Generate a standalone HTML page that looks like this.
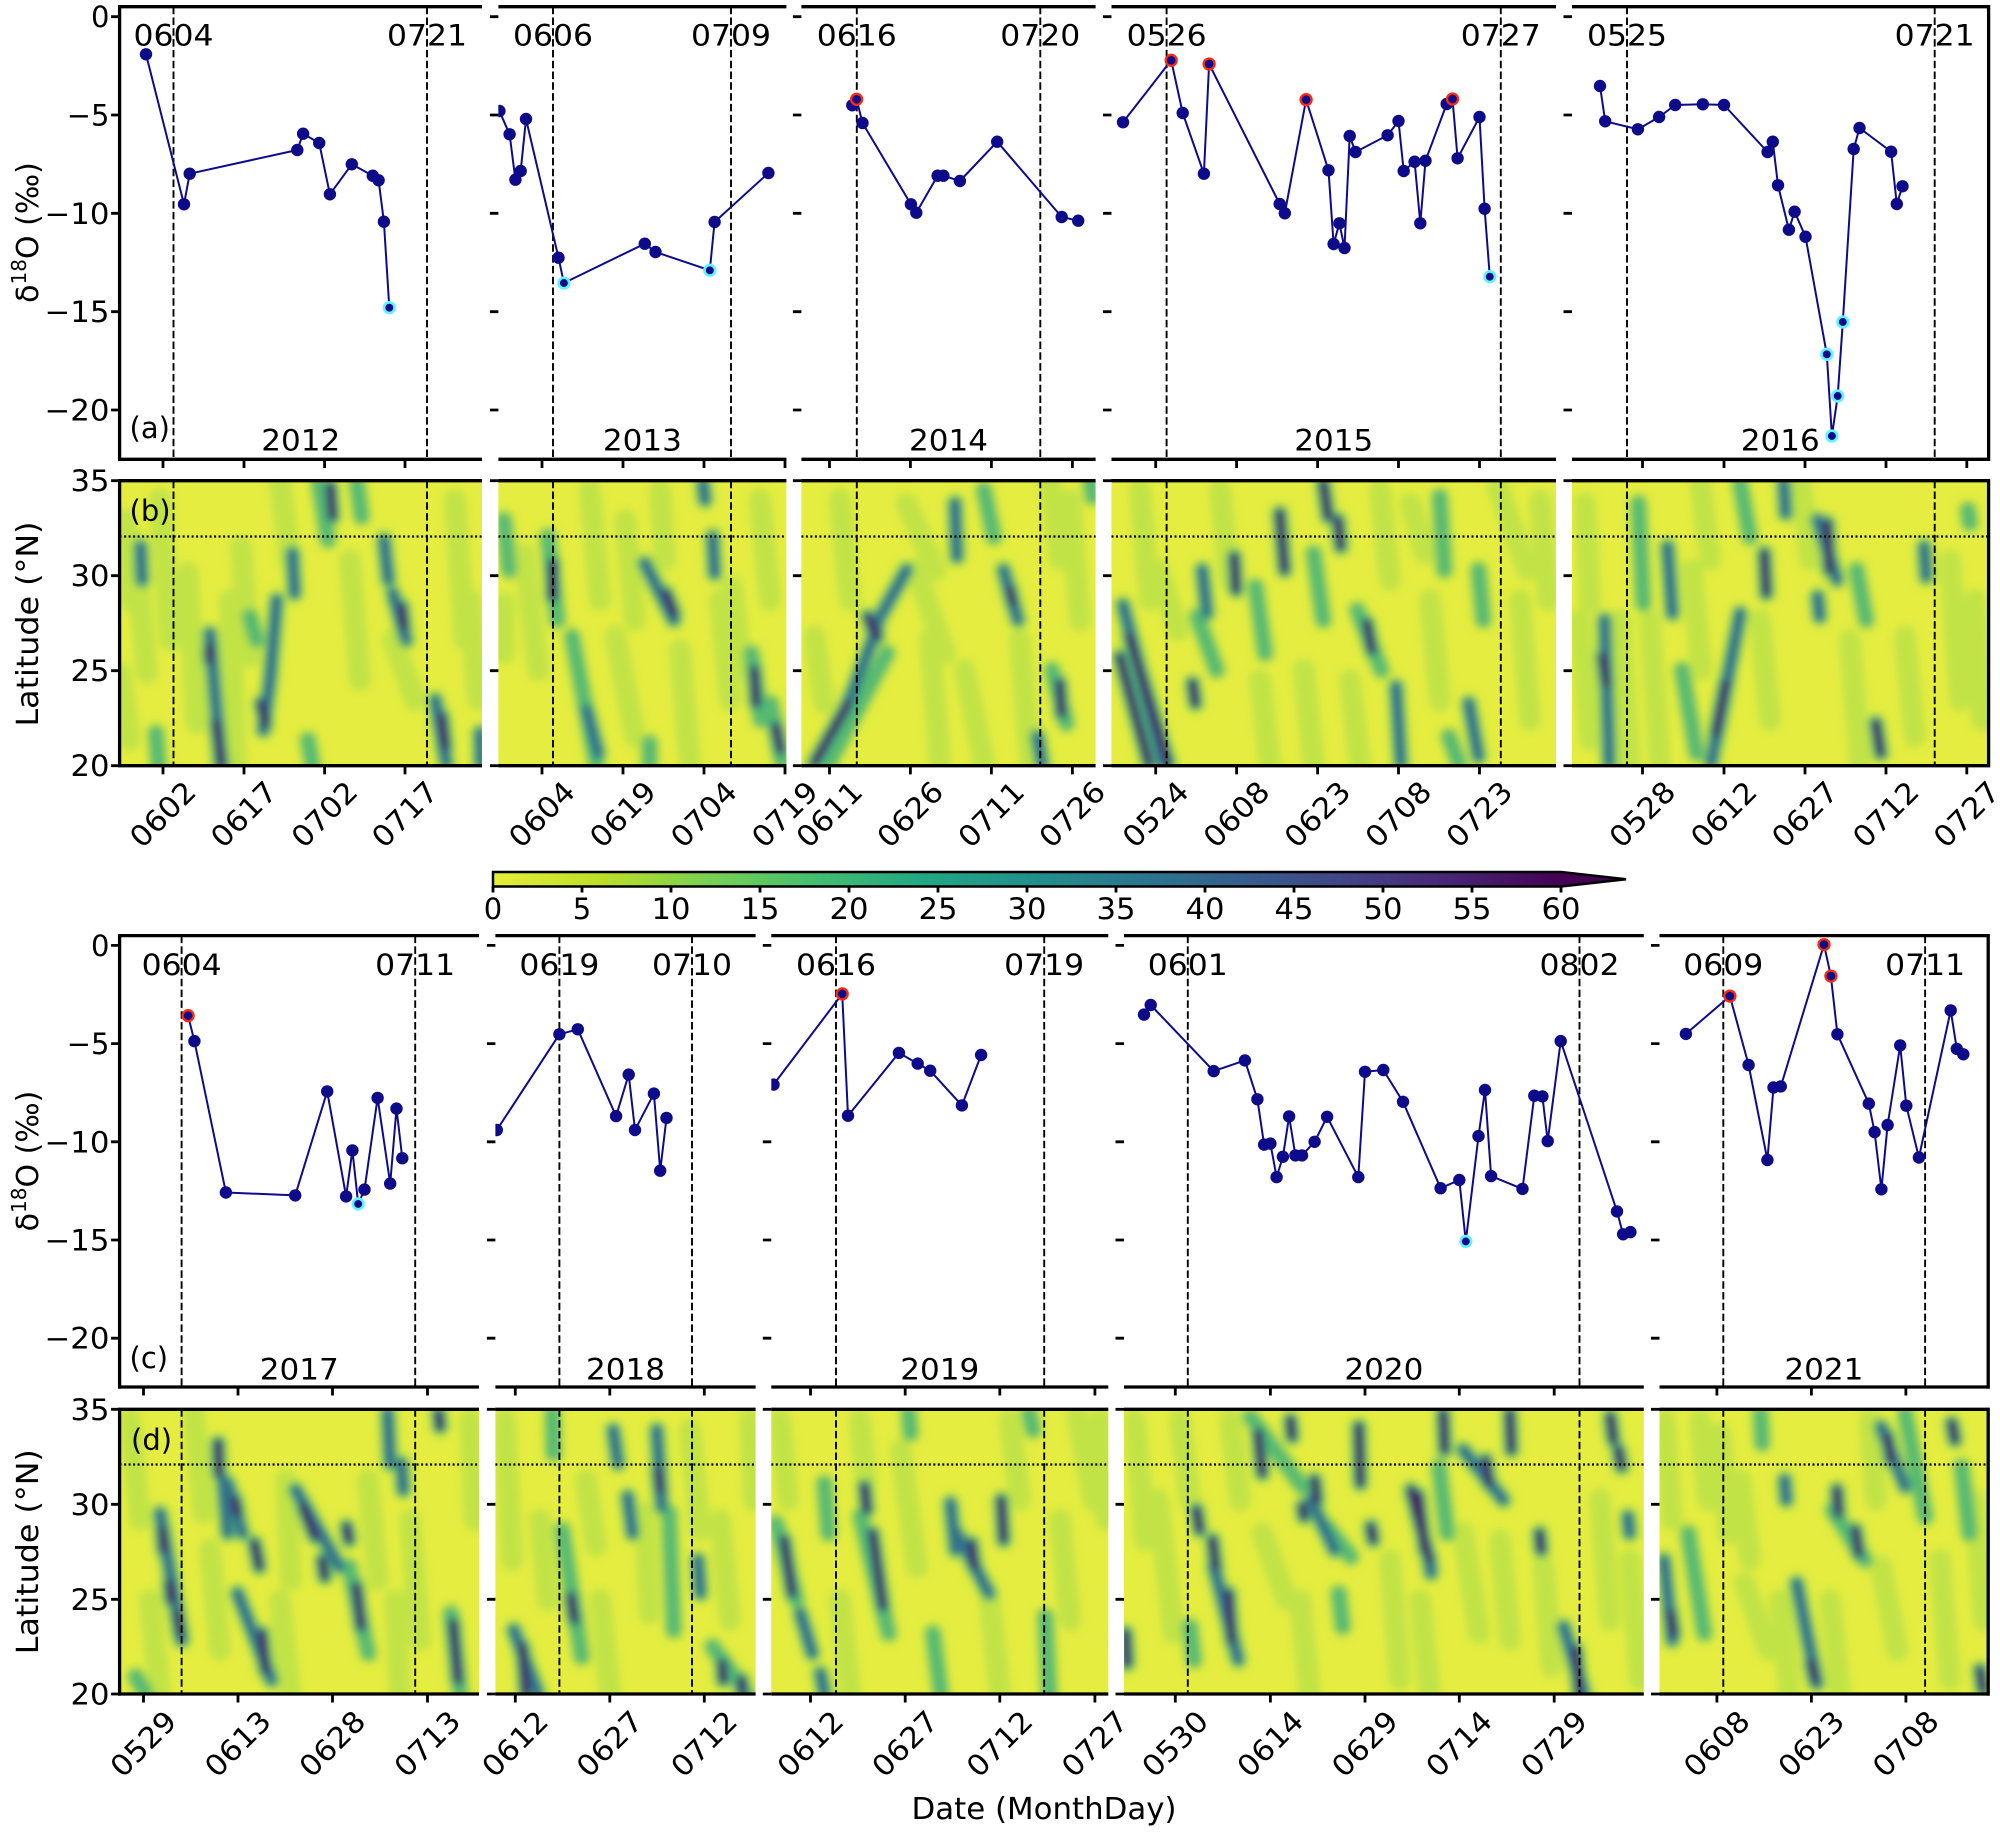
<!DOCTYPE html>
<html><head><meta charset="utf-8"><style>
html,body{margin:0;padding:0;background:#fff;}
svg{display:block;}
text{font-family:"DejaVu Sans","Liberation Sans",sans-serif;font-size:29px;fill:#000;}
.c{text-anchor:middle;}
.e{text-anchor:end;}
.sp{stroke:#000;stroke-width:3.3;fill:none;}
.tk{stroke:#000;stroke-width:2.8;fill:none;}
.da{stroke:#000;stroke-width:1.9;stroke-dasharray:7.5 3.3;fill:none;}
.dt{stroke:#000;stroke-width:2.2;stroke-dasharray:2 2.5;fill:none;}
.ln{fill:none;stroke:#0d0b8a;stroke-width:2;stroke-linejoin:round;}
.mk circle{fill:#0d0b8a;}
.rd{stroke:#ff2a10;stroke-width:2.3;}
.cy{stroke:#5ff4ff;stroke-width:2.7;}
.h1{fill:none;stroke:#a6db4a;stroke-width:22;stroke-opacity:.55;stroke-linecap:round;}
.h2{fill:none;stroke:#3fb07c;stroke-width:15;stroke-opacity:.8;stroke-linecap:round;}
.h3{fill:none;stroke:#31688e;stroke-width:10;stroke-opacity:.9;stroke-linecap:round;}
.h4{fill:none;stroke:#440e5e;stroke-width:7;stroke-linecap:round;}
</style></head><body>
<svg width="2000" height="1834" viewBox="0 0 2000 1834" xmlns="http://www.w3.org/2000/svg">
<defs>
<filter id="bl" x="-5%" y="-5%" width="110%" height="110%"><feGaussianBlur stdDeviation="4"/></filter>
<linearGradient id="cb" x1="0" x2="1" y1="0" y2="0">
<stop offset="0" stop-color="#e6ee3a"/><stop offset="0.1" stop-color="#bddf26"/><stop offset="0.2" stop-color="#7ad151"/><stop offset="0.3" stop-color="#44bf70"/><stop offset="0.4" stop-color="#22a884"/><stop offset="0.5" stop-color="#21918c"/><stop offset="0.6" stop-color="#2a788e"/><stop offset="0.7" stop-color="#355f8d"/><stop offset="0.8" stop-color="#414487"/><stop offset="0.9" stop-color="#482475"/><stop offset="1" stop-color="#440154"/>
</linearGradient>
<clipPath id="hmc">
<rect x="119.6" y="480.7" width="362.4" height="285"/><rect x="498.4" y="480.7" width="288" height="285"/><rect x="801.4" y="480.7" width="294.2" height="285"/><rect x="1111.5" y="480.7" width="444.5" height="285"/><rect x="1572" y="480.7" width="416.6" height="285"/>
<rect x="119.6" y="1409.3" width="359.4" height="284.7"/><rect x="495.4" y="1409.3" width="260.2" height="284.7"/><rect x="771.3" y="1409.3" width="337" height="284.7"/><rect x="1124" y="1409.3" width="519.8" height="284.7"/><rect x="1659.5" y="1409.3" width="328.7" height="284.7"/>
</clipPath>
<clipPath id="lnc">
<rect x="119.6" y="6.7" width="362.4" height="452.6"/><rect x="498.4" y="6.7" width="288" height="452.6"/><rect x="801.4" y="6.7" width="294.2" height="452.6"/><rect x="1111.5" y="6.7" width="444.5" height="452.6"/><rect x="1572" y="6.7" width="416.6" height="452.6"/>
<rect x="119.6" y="935.6" width="359.4" height="451.4"/><rect x="495.4" y="935.6" width="260.2" height="451.4"/><rect x="771.3" y="935.6" width="337" height="451.4"/><rect x="1124" y="935.6" width="519.8" height="451.4"/><rect x="1659.5" y="935.6" width="328.7" height="451.4"/>
</clipPath>
<path id="L1" d="M134,540L147,673M187.5,573L196.4,723M241,546.7L250,656.7M393,640L415,700M120.5,673L129.5,740M523.6,553.3L538.2,670M625.4,520L635,620M615.7,636.7L635,736.7M732,586.7L741.7,670M504,603L504,653M906.5,503.3L935.6,570M916,570L945,653M964.7,670L984,763.3M814.4,636.7L824,703.3M1158.6,570L1178,630M1497.8,486.7L1527,570M1410.6,503.3L1425,553.3M1304,670L1313.6,763.3M1691.7,570L1701.4,670M1905,636.7L1914.7,736.7M1585.1,503.3L1590,603.3M193.9,1413.3L203.6,1513.3M286,1480L291,1580M368,1480L378,1580M644.7,1513.3L649.5,1613.3M586,1480L596,1546M900.7,1450L916.8,1566.7M1077.5,1416.7L1093.6,1500M1262.3,1533.3L1286.4,1600M1463,1533L1479,1633M1543.6,1566.7L1551.6,1666.7M1157.9,1500L1173.9,1633.3M1881.1,1566.7L1897.2,1650M1744.5,1583.3L1768.6,1650M1720.4,1433.3L1728.4,1533.3
M160,500L170,640M230,600L236,765M280,480L290,560M350,560L360,680M455,500L465,640M470,600L478,700M125,520L130,600
M590,490L600,600M680,650L690,765M720,600L730,700M760,500L770,600M660,490L665,560
M840,500L850,600M1020,640L1030,760M1070,500L1080,620M930,640L940,760M1050,480L1060,560
M1140,490L1150,600M1220,490L1230,580M1260,680L1270,765M1350,680L1360,765M1380,490L1390,580M1430,600L1440,700M1520,600L1530,720M1540,500L1548,600
M1580,620L1590,740M1620,620L1630,765M1650,620L1660,760M1700,480L1710,560M1760,620L1770,720M1800,480L1810,560M1850,640L1860,760M1950,560L1960,700M1975,600L1982,720
M130,1420L140,1520M150,1600L160,1694M210,1550L220,1650M280,1600L290,1694M410,1520L420,1640M470,1420L475,1520M395,1600L400,1694
M505,1420L512,1560M540,1520L548,1600M600,1600L610,1694M690,1430L700,1530M720,1520L730,1620M750,1420L754,1500
M780,1420L788,1500M840,1600L850,1694M860,1420L866,1480M990,1600L1000,1694M1010,1420L1020,1500M1060,1520L1070,1620M1100,1420L1106,1520
M1135,1420L1145,1540M1180,1420L1190,1500M1230,1420L1240,1500M1300,1600L1310,1694M1390,1560L1400,1680M1420,1600L1430,1694M1500,1540L1510,1640M1600,1500L1610,1620M1630,1560L1640,1680
M1665,1420L1672,1520M1700,1420L1708,1500M1740,1480L1750,1560M1780,1600L1790,1694M1830,1600L1840,1694M1870,1420L1876,1500M1940,1560L1950,1680M1975,1500L1984,1620"/>
<path id="L2" d="M319,483L328,540M357,483L361.6,516.7M156,733L158.5,765M250,616.7L256.7,640M308,740L312.5,765M547.9,536.7L557.6,620M572,636.7L596.3,763.3M751.4,653.3L761.1,720M770.8,703.3L782.4,763.3M649.6,743.3L649.6,763.3M504,520L509,570M829,763L887,653M984,490L993.8,536.7M1052,670L1066.5,723.3M1090.7,480.7L1092.6,496.7M1255.5,586.7L1265.2,653.3M1357.3,610L1381.5,670M1449,736.7L1459,763.3M1439.7,496.7L1444.5,570M1478.5,570L1483.3,620M1313.6,553.3L1323.3,620M1197.3,616.7L1216.7,670M1638.4,503.3L1643.3,603.3M1968,510L1970,523.3M1682,670L1696.6,753.3M1740.2,483.3L1749.9,536.7M1856.5,570L1866.2,620M349,1566.7L368.4,1653.3M450.8,1613.3L460.5,1693.3M135.7,1676.7L145.4,1693.3M552.6,1413.3L553.6,1453.3M562.3,1530L581.7,1656.7M712.6,1646.7L746.5,1693.3M669,1513L673.8,1630M776.2,1523.3L796.3,1600M860.5,1516.7L888.7,1633.3M908.8,1413.3L910.4,1433.3M1029.3,1413.3L1033.3,1430M932.9,1633.3L940.9,1693.3M1045.4,1616.7L1049.4,1693.3M824.4,1483.3L828.4,1533.3M1250.3,1416.7L1302.5,1486.7M1338.7,1593.3L1342.7,1626.7M1190,1626.7L1194,1660M1326.7,1526.7L1350.8,1556.7M1439,1466.7L1447.2,1533.3M1760.6,1413.3L1762.2,1443.3M1832.9,1510L1865,1560M1688.2,1533.3L1704.3,1633.3M1905.2,1413.3L1925.3,1516.7M1961.5,1466.7L1969.5,1533.3"/>
<path id="L3" d="M209.8,633.3L221,765M263.4,730L270,680L276.8,600M292.4,553.3L294.6,593.3M384,540L388.4,580M392.9,593.3L406.3,640M435.3,700L446.4,763.3M480,733L481,765M140.6,546.7L142,580M586.6,710L598.3,753.3M644.8,563.3L673.9,620M712.6,536.7L714.6,573.3M703,483.3L705,500M848.4,703.3L877.4,626.7M872.6,630L906.5,570M955,503.3L957,556.7M1003.5,570L1018,620M1037.4,736.7L1042.2,763.3M1123,605L1163,763M1202.2,570L1207,613.3M1396,686.7L1400.9,763.3M1468.8,703.3L1478.5,756.7M1604.5,620L1609.3,763.3M1667.5,546.7L1672.3,613.3M1740.2,613.3L1711.1,763.3M1783.8,483.3L1785.7,513.3M1817.7,520L1837.1,580M1817.7,596.7L1819.7,616.7M1924.3,546.7L1926.3,576.7M160,1513.3L181.8,1640M227.8,1483.3L242.4,1533.3M237.5,1593.3L271.5,1680M295.7,1490L339.3,1566.7M387.8,1413.3L390.2,1463.3M401.4,1463.3L403.3,1490M223,1480L227.8,1533.3M513.8,1630L538,1693.3M613.2,1430L618,1463.3M627.7,1496.7L632.6,1533.3M656.8,1430L661.7,1506.7M698,1560L700.4,1593.3M800.3,1613.3L812.3,1653.3M820.4,1673.3L824.4,1693.3M950.5,1503.3L955.4,1550M957,1533.3L989,1593.3M1214.1,1566.7L1238.2,1660M1429.5,1560L1431,1573M1463.2,1450L1503.4,1500M1563.7,1626.7L1583.8,1693.3M1628,1516.7L1629.6,1533.3M1310.6,1500L1334.7,1550M1664.1,1560L1672.2,1640M1784.7,1480L1786.3,1500M1796.7,1583.3L1816.8,1683.3M1881.1,1426.7L1905.2,1486.7"/>
<path id="L4" d="M216.5,723.3L221.9,765M209.8,646.7L209.8,660M261,703.3L265.6,723.3M330.4,486.7L332.6,516.7M401.8,606.7L404,626.7M442,716.7L445.5,746.7M552.7,563.3L552.7,596.7M666,593.3L674,613.3M754.3,670L756.3,703.3M775.7,726.7L780.5,750M814.4,763.3L848.4,703.3M867.7,616.7L877.4,636.7M1010,590L1013,603M1059.7,683.3L1061.6,713.3M1129.5,636.7L1168.2,763.3M1119.8,656.7L1148.9,763.3M1192.5,683.3L1195.4,703.3M1234.2,556.7L1236.1,590M1279.7,513.3L1284.6,570M1323.3,483.3L1328.2,516.7M1337.9,520L1340.8,546.7M1367,623.3L1371.8,650M1602.5,656.7L1606.4,683.3M1725.7,683.3L1716,733.3M1764.4,553.3L1766.3,593.3M1827.4,523.3L1829.3,570M1875.9,723.3L1880.7,753.3M162.4,1530L163.8,1550M169.7,1583.3L171.1,1600M177,1613.3L180.3,1633.3M218.1,1443.3L219.1,1473.3M235.1,1500L237.5,1513.3M254.5,1543.3L259.3,1566.7M261.8,1633.3L265.6,1670M303,1506.7L315.1,1536.7M322.3,1560L324.8,1576.7M346.6,1526.7L349,1540M356.3,1586.7L361.1,1626.7M438.7,1413.3L440.1,1426.7M453.2,1623.3L458.1,1680M522.5,1646.7L525.9,1693.3M571,1596.7L574.4,1620M658.3,1470L660.2,1490M722.3,1663.3L723.2,1680M741.6,1680L742.6,1693.3M784.2,1540L792.2,1593.3M864.6,1486.7L867,1510M872.6,1533.3L883,1606.7M971.4,1543.3L974.6,1566.7M1001.2,1500L1003.6,1540M1125.7,1633.3L1127.3,1663.3M1196.4,1510L1199.7,1530M1212.5,1540L1215.7,1566.7M1228.6,1593.3L1231.8,1640M1258.3,1433.3L1262.3,1473.3M1290.5,1420L1292.1,1436.7M1314.6,1480L1317,1500M1302.5,1506.7L1304.1,1516.7M1358.8,1426.7L1360.4,1483.3M1411,1490L1429.5,1560M1418,1495L1425,1550M1370.8,1526.7L1373.2,1540M1443.2,1413.3L1444.8,1450M1485.7,1460L1489,1483.3M1509.8,1413.3L1511.4,1450M1539.6,1533.3L1541.2,1550M1575.7,1650L1579.8,1693.3M1610.3,1416.7L1613.5,1440M1618.3,1450L1621.6,1466.7M1670.6,1613.3L1673.8,1633.3M1811.2,1663.3L1815.2,1680M1836.9,1490L1838.5,1513.3M1855.4,1530L1858.6,1553.3M1887.5,1436.7L1890.8,1460M1951.8,1423.3L1955,1440M1980,1670L1983.2,1690"/>
</defs>

<!-- heatmaps -->
<g clip-path="url(#hmc)">
<rect x="100" y="470" width="1900" height="310" fill="#e4ed40"/>
<rect x="100" y="1400" width="1900" height="310" fill="#e4ed40"/>
<g filter="url(#bl)">
<use href="#L1" class="h1"/><use href="#L2" class="h1"/><use href="#L3" class="h1"/><use href="#L4" class="h1"/>
<use href="#L2" class="h2"/><use href="#L3" class="h2"/><use href="#L4" class="h2"/>
<use href="#L3" class="h3"/><use href="#L4" class="h3"/>
<use href="#L4" class="h4"/>
</g>
</g>

<!-- dashed & dotted -->
<path class="da" d="M173.5,6.7V459.3M427,6.7V459.3M553,6.7V459.3M731,6.7V459.3M856.8,6.7V459.3M1040.3,6.7V459.3M1166.6,6.7V459.3M1500.8,6.7V459.3M1627,6.7V459.3M1934.7,6.7V459.3
M173.5,480.7V765.7M427,480.7V765.7M553,480.7V765.7M731,480.7V765.7M856.8,480.7V765.7M1040.3,480.7V765.7M1166.6,480.7V765.7M1500.8,480.7V765.7M1627,480.7V765.7M1934.7,480.7V765.7
M181.6,935.6V1387M415.2,935.6V1387M559.4,935.6V1387M692,935.6V1387M836,935.6V1387M1044.2,935.6V1387M1187.8,935.6V1387M1579.5,935.6V1387M1723.3,935.6V1387M1925.1,935.6V1387
M181.6,1409.3V1694M415.2,1409.3V1694M559.4,1409.3V1694M692,1409.3V1694M836,1409.3V1694M1044.2,1409.3V1694M1187.8,1409.3V1694M1579.5,1409.3V1694M1723.3,1409.3V1694M1925.1,1409.3V1694"/>
<path class="dt" d="M119.6,536.5H482M498.4,536.5H786.4M801.4,536.5H1095.6M1111.5,536.5H1556M1572,536.5H1988.6
M119.6,1464.5H479M495.4,1464.5H755.6M771.3,1464.5H1108.3M1124,1464.5H1643.8M1659.5,1464.5H1988.2"/>

<!-- data lines -->
<g clip-path="url(#lnc)">
<polyline class="ln" points="146,54.3 184,204.3 189.7,173.7 297.3,150 303.1,133.7 319.2,143 329.9,194.3 351.8,164.3 372.8,175.7 378.6,180.3 383.9,221.7 389.3,307.7"/>
<polyline class="ln" points="490,90 499.4,111 509.6,134.3 515.4,179.7 520.7,171 526,119 558.5,257.7 563.9,283 644.8,243.7 655.5,252 709.8,270.3 714.6,222 768.4,173"/>
<polyline class="ln" points="852.3,105.3 856.6,99.3 862.5,123 910.9,204.3 916.3,212.7 937.6,175.7 943.4,175.7 959.9,181 997.2,141.7 1061.7,217 1078.2,220.7"/>
<polyline class="ln" points="1123,122.3 1171.2,60.3 1182.7,113 1203.9,173.7 1209.1,64 1279.7,204 1284.8,213.3 1306.1,99.7 1328.5,170.3 1333.6,244 1339.4,223.3 1344.5,248 1349.7,136 1355.5,152 1387.6,135.3 1398.5,121 1403.7,171 1414.6,161.7 1420.3,223.3 1425.5,160.7 1446.7,104 1452.5,99 1457.6,158.3 1479.5,117 1484.6,208.7 1489.8,276.7"/>
<polyline class="ln" points="1600,86 1605.2,121.3 1637.9,129.3 1659.1,117 1675.2,105 1702.8,104.3 1724,105 1767.6,152 1772.8,141.7 1778,185.3 1788.9,229.7 1794.6,211.7 1805.5,236.7 1826.8,354.3 1831.9,436 1837.7,396 1842.8,322 1853.7,149 1859.5,128 1891.1,151.7 1896.8,204 1902.5,186.3"/>
<polyline class="ln" points="188.1,1015.7 194.4,1041.1 225.9,1192.5 295.2,1195.4 327.2,1091.4 346.1,1196.4 352.4,1150.4 358.2,1203.9 364.5,1189.6 377.6,1097.9 390.2,1183.6 396.5,1108.6 402.3,1158.2"/>
<polyline class="ln" points="496.8,1130 559.4,1034.3 577.8,1029.3 616.1,1116.1 628.7,1074.6 635,1130 653.9,1093.6 660.2,1170.7 666.5,1117.9"/>
<polyline class="ln" points="773.5,1084.6 842.2,993.9 848,1115.7 898.9,1052.9 917.7,1063.6 930.2,1070.7 961.9,1105.4 981.1,1055"/>
<polyline class="ln" points="1144,1014.6 1150.7,1005 1213.7,1071.1 1244.9,1060.4 1257.4,1099.3 1264.1,1144.6 1270.4,1143.6 1276.6,1177.1 1282.9,1156.8 1289.1,1116.4 1295.4,1155.4 1302,1155.4 1314.6,1141.8 1327.1,1116.8 1358.3,1177.1 1365,1071.8 1383.3,1070 1403,1101.8 1440.6,1188.2 1459.3,1180 1465.8,1241.4 1478.5,1136.1 1485,1090 1491.1,1176.1 1522.5,1188.9 1534.3,1095.7 1542.4,1096.4 1547.7,1141.1 1560.7,1041.1 1617,1211.4 1623.1,1234.3 1630.4,1232.1"/>
<polyline class="ln" points="1685.9,1033.9 1729.9,996.1 1748.6,1065 1767.4,1160 1773.5,1087.5 1780.8,1086.4 1824,944.6 1830.9,976.1 1837.4,1034.3 1868.8,1103.6 1874.6,1132.1 1881.4,1189.3 1887.6,1125 1900.2,1045.4 1906.3,1105.7 1918.9,1157.5 1950.7,1010.4 1956.8,1048.9 1963.3,1054.3"/>
<g class="mk">
<circle cx="146" cy="54.3" r="6.2"/><circle cx="184" cy="204.3" r="6.2"/><circle cx="189.7" cy="173.7" r="6.2"/><circle cx="297.3" cy="150" r="6.2"/><circle cx="303.1" cy="133.7" r="6.2"/><circle cx="319.2" cy="143" r="6.2"/><circle cx="329.9" cy="194.3" r="6.2"/><circle cx="351.8" cy="164.3" r="6.2"/><circle cx="372.8" cy="175.7" r="6.2"/><circle cx="378.6" cy="180.3" r="6.2"/><circle cx="383.9" cy="221.7" r="6.2"/><circle class="cy" cx="389.3" cy="307.7" r="5.3"/>
<circle cx="499.4" cy="111" r="6.2"/><circle cx="509.6" cy="134.3" r="6.2"/><circle cx="515.4" cy="179.7" r="6.2"/><circle cx="520.7" cy="171" r="6.2"/><circle cx="526" cy="119" r="6.2"/><circle cx="558.5" cy="257.7" r="6.2"/><circle class="cy" cx="563.9" cy="283" r="5.3"/><circle cx="644.8" cy="243.7" r="6.2"/><circle cx="655.5" cy="252" r="6.2"/><circle class="cy" cx="709.8" cy="270.3" r="5.3"/><circle cx="714.6" cy="222" r="6.2"/><circle cx="768.4" cy="173" r="6.2"/>
<circle cx="852.3" cy="105.3" r="6.2"/><circle class="rd" cx="856.6" cy="99.3" r="5.5"/><circle cx="862.5" cy="123" r="6.2"/><circle cx="910.9" cy="204.3" r="6.2"/><circle cx="916.3" cy="212.7" r="6.2"/><circle cx="937.6" cy="175.7" r="6.2"/><circle cx="943.4" cy="175.7" r="6.2"/><circle cx="959.9" cy="181" r="6.2"/><circle cx="997.2" cy="141.7" r="6.2"/><circle cx="1061.7" cy="217" r="6.2"/><circle cx="1078.2" cy="220.7" r="6.2"/>
<circle cx="1123" cy="122.3" r="6.2"/><circle class="rd" cx="1171.2" cy="60.3" r="5.5"/><circle cx="1182.7" cy="113" r="6.2"/><circle cx="1203.9" cy="173.7" r="6.2"/><circle class="rd" cx="1209.1" cy="64" r="5.5"/><circle cx="1279.7" cy="204" r="6.2"/><circle cx="1284.8" cy="213.3" r="6.2"/><circle class="rd" cx="1306.1" cy="99.7" r="5.5"/><circle cx="1328.5" cy="170.3" r="6.2"/><circle cx="1333.6" cy="244" r="6.2"/><circle cx="1339.4" cy="223.3" r="6.2"/><circle cx="1344.5" cy="248" r="6.2"/><circle cx="1349.7" cy="136" r="6.2"/><circle cx="1355.5" cy="152" r="6.2"/><circle cx="1387.6" cy="135.3" r="6.2"/><circle cx="1398.5" cy="121" r="6.2"/><circle cx="1403.7" cy="171" r="6.2"/><circle cx="1414.6" cy="161.7" r="6.2"/><circle cx="1420.3" cy="223.3" r="6.2"/><circle cx="1425.5" cy="160.7" r="6.2"/><circle cx="1446.7" cy="104" r="6.2"/><circle class="rd" cx="1452.5" cy="99" r="5.5"/><circle cx="1457.6" cy="158.3" r="6.2"/><circle cx="1479.5" cy="117" r="6.2"/><circle cx="1484.6" cy="208.7" r="6.2"/><circle class="cy" cx="1489.8" cy="276.7" r="5.3"/>
<circle cx="1600" cy="86" r="6.2"/><circle cx="1605.2" cy="121.3" r="6.2"/><circle cx="1637.9" cy="129.3" r="6.2"/><circle cx="1659.1" cy="117" r="6.2"/><circle cx="1675.2" cy="105" r="6.2"/><circle cx="1702.8" cy="104.3" r="6.2"/><circle cx="1724" cy="105" r="6.2"/><circle cx="1767.6" cy="152" r="6.2"/><circle cx="1772.8" cy="141.7" r="6.2"/><circle cx="1778" cy="185.3" r="6.2"/><circle cx="1788.9" cy="229.7" r="6.2"/><circle cx="1794.6" cy="211.7" r="6.2"/><circle cx="1805.5" cy="236.7" r="6.2"/><circle class="cy" cx="1826.8" cy="354.3" r="5.3"/><circle class="cy" cx="1831.9" cy="436" r="5.3"/><circle class="cy" cx="1837.7" cy="396" r="5.3"/><circle class="cy" cx="1842.8" cy="322" r="5.3"/><circle cx="1853.7" cy="149" r="6.2"/><circle cx="1859.5" cy="128" r="6.2"/><circle cx="1891.1" cy="151.7" r="6.2"/><circle cx="1896.8" cy="204" r="6.2"/><circle cx="1902.5" cy="186.3" r="6.2"/>
<circle class="rd" cx="188.1" cy="1015.7" r="5.5"/><circle cx="194.4" cy="1041.1" r="6.2"/><circle cx="225.9" cy="1192.5" r="6.2"/><circle cx="295.2" cy="1195.4" r="6.2"/><circle cx="327.2" cy="1091.4" r="6.2"/><circle cx="346.1" cy="1196.4" r="6.2"/><circle cx="352.4" cy="1150.4" r="6.2"/><circle class="cy" cx="358.2" cy="1203.9" r="5.3"/><circle cx="364.5" cy="1189.6" r="6.2"/><circle cx="377.6" cy="1097.9" r="6.2"/><circle cx="390.2" cy="1183.6" r="6.2"/><circle cx="396.5" cy="1108.6" r="6.2"/><circle cx="402.3" cy="1158.2" r="6.2"/>
<circle cx="496.8" cy="1130" r="6.2"/><circle cx="559.4" cy="1034.3" r="6.2"/><circle cx="577.8" cy="1029.3" r="6.2"/><circle cx="616.1" cy="1116.1" r="6.2"/><circle cx="628.7" cy="1074.6" r="6.2"/><circle cx="635" cy="1130" r="6.2"/><circle cx="653.9" cy="1093.6" r="6.2"/><circle cx="660.2" cy="1170.7" r="6.2"/><circle cx="666.5" cy="1117.9" r="6.2"/>
<circle cx="773.5" cy="1084.6" r="6.2"/><circle class="rd" cx="842.2" cy="993.9" r="5.5"/><circle cx="848" cy="1115.7" r="6.2"/><circle cx="898.9" cy="1052.9" r="6.2"/><circle cx="917.7" cy="1063.6" r="6.2"/><circle cx="930.2" cy="1070.7" r="6.2"/><circle cx="961.9" cy="1105.4" r="6.2"/><circle cx="981.1" cy="1055" r="6.2"/>
<circle cx="1144" cy="1014.6" r="6.2"/><circle cx="1150.7" cy="1005" r="6.2"/><circle cx="1213.7" cy="1071.1" r="6.2"/><circle cx="1244.9" cy="1060.4" r="6.2"/><circle cx="1257.4" cy="1099.3" r="6.2"/><circle cx="1264.1" cy="1144.6" r="6.2"/><circle cx="1270.4" cy="1143.6" r="6.2"/><circle cx="1276.6" cy="1177.1" r="6.2"/><circle cx="1282.9" cy="1156.8" r="6.2"/><circle cx="1289.1" cy="1116.4" r="6.2"/><circle cx="1295.4" cy="1155.4" r="6.2"/><circle cx="1302" cy="1155.4" r="6.2"/><circle cx="1314.6" cy="1141.8" r="6.2"/><circle cx="1327.1" cy="1116.8" r="6.2"/><circle cx="1358.3" cy="1177.1" r="6.2"/><circle cx="1365" cy="1071.8" r="6.2"/><circle cx="1383.3" cy="1070" r="6.2"/><circle cx="1403" cy="1101.8" r="6.2"/><circle cx="1440.6" cy="1188.2" r="6.2"/><circle cx="1459.3" cy="1180" r="6.2"/><circle class="cy" cx="1465.8" cy="1241.4" r="5.3"/><circle cx="1478.5" cy="1136.1" r="6.2"/><circle cx="1485" cy="1090" r="6.2"/><circle cx="1491.1" cy="1176.1" r="6.2"/><circle cx="1522.5" cy="1188.9" r="6.2"/><circle cx="1534.3" cy="1095.7" r="6.2"/><circle cx="1542.4" cy="1096.4" r="6.2"/><circle cx="1547.7" cy="1141.1" r="6.2"/><circle cx="1560.7" cy="1041.1" r="6.2"/><circle cx="1617" cy="1211.4" r="6.2"/><circle cx="1623.1" cy="1234.3" r="6.2"/><circle cx="1630.4" cy="1232.1" r="6.2"/>
<circle cx="1685.9" cy="1033.9" r="6.2"/><circle class="rd" cx="1729.9" cy="996.1" r="5.5"/><circle cx="1748.6" cy="1065" r="6.2"/><circle cx="1767.4" cy="1160" r="6.2"/><circle cx="1773.5" cy="1087.5" r="6.2"/><circle cx="1780.8" cy="1086.4" r="6.2"/><circle class="rd" cx="1824" cy="944.6" r="5.5"/><circle class="rd" cx="1830.9" cy="976.1" r="5.5"/><circle cx="1837.4" cy="1034.3" r="6.2"/><circle cx="1868.8" cy="1103.6" r="6.2"/><circle cx="1874.6" cy="1132.1" r="6.2"/><circle cx="1881.4" cy="1189.3" r="6.2"/><circle cx="1887.6" cy="1125" r="6.2"/><circle cx="1900.2" cy="1045.4" r="6.2"/><circle cx="1906.3" cy="1105.7" r="6.2"/><circle cx="1918.9" cy="1157.5" r="6.2"/><circle cx="1950.7" cy="1010.4" r="6.2"/><circle cx="1956.8" cy="1048.9" r="6.2"/><circle cx="1963.3" cy="1054.3" r="6.2"/>
</g>
</g>

<!-- spines -->
<path class="sp" d="M119.6,6.7H482M498.4,6.7H786.4M801.4,6.7H1095.6M1111.5,6.7H1556M1572,6.7H1988.6
M119.6,459.3H482M498.4,459.3H786.4M801.4,459.3H1095.6M1111.5,459.3H1556M1572,459.3H1988.6
M119.6,5V461M1988.6,5V461
M119.6,480.7H482M498.4,480.7H786.4M801.4,480.7H1095.6M1111.5,480.7H1556M1572,480.7H1988.6
M119.6,765.7H482M498.4,765.7H786.4M801.4,765.7H1095.6M1111.5,765.7H1556M1572,765.7H1988.6
M119.6,479V767.4M1988.6,479V767.4
M119.6,935.6H479M495.4,935.6H755.6M771.3,935.6H1108.3M1124,935.6H1643.8M1659.5,935.6H1988.2
M119.6,1387H479M495.4,1387H755.6M771.3,1387H1108.3M1124,1387H1643.8M1659.5,1387H1988.2
M119.6,934V1388.7M1988.2,934V1388.7
M119.6,1409.3H479M495.4,1409.3H755.6M771.3,1409.3H1108.3M1124,1409.3H1643.8M1659.5,1409.3H1988.2
M119.6,1694H479M495.4,1694H755.6M771.3,1694H1108.3M1124,1694H1643.8M1659.5,1694H1988.2
M119.6,1407.6V1695.7M1988.2,1407.6V1695.7"/>

<!-- ticks -->
<path class="tk" d="M111.1,16.7h8.5M111.1,115h8.5M111.1,213.3h8.5M111.1,311.7h8.5M111.1,410h8.5
M489.9,16.7h8.5M489.9,115h8.5M489.9,213.3h8.5M489.9,311.7h8.5M489.9,410h8.5
M792.9,16.7h8.5M792.9,115h8.5M792.9,213.3h8.5M792.9,311.7h8.5M792.9,410h8.5
M1103,16.7h8.5M1103,115h8.5M1103,213.3h8.5M1103,311.7h8.5M1103,410h8.5
M1563.5,16.7h8.5M1563.5,115h8.5M1563.5,213.3h8.5M1563.5,311.7h8.5M1563.5,410h8.5
M111.1,480.7h8.5M111.1,575.7h8.5M111.1,670.7h8.5M111.1,765.7h8.5
M489.9,480.7h8.5M489.9,575.7h8.5M489.9,670.7h8.5M489.9,765.7h8.5
M792.9,480.7h8.5M792.9,575.7h8.5M792.9,670.7h8.5M792.9,765.7h8.5
M1103,480.7h8.5M1103,575.7h8.5M1103,670.7h8.5M1103,765.7h8.5
M1563.5,480.7h8.5M1563.5,575.7h8.5M1563.5,670.7h8.5M1563.5,765.7h8.5
M111.1,945.4h8.5M111.1,1043.6h8.5M111.1,1141.8h8.5M111.1,1240h8.5M111.1,1338.2h8.5
M486.9,945.4h8.5M486.9,1043.6h8.5M486.9,1141.8h8.5M486.9,1240h8.5M486.9,1338.2h8.5
M762.8,945.4h8.5M762.8,1043.6h8.5M762.8,1141.8h8.5M762.8,1240h8.5M762.8,1338.2h8.5
M1115.5,945.4h8.5M1115.5,1043.6h8.5M1115.5,1141.8h8.5M1115.5,1240h8.5M1115.5,1338.2h8.5
M1651,945.4h8.5M1651,1043.6h8.5M1651,1141.8h8.5M1651,1240h8.5M1651,1338.2h8.5
M111.1,1409.3h8.5M111.1,1504.3h8.5M111.1,1599.3h8.5M111.1,1694h8.5
M486.9,1409.3h8.5M486.9,1504.3h8.5M486.9,1599.3h8.5M486.9,1694h8.5
M762.8,1409.3h8.5M762.8,1504.3h8.5M762.8,1599.3h8.5M762.8,1694h8.5
M1115.5,1409.3h8.5M1115.5,1504.3h8.5M1115.5,1599.3h8.5M1115.5,1694h8.5
M1651,1409.3h8.5M1651,1504.3h8.5M1651,1599.3h8.5M1651,1694h8.5
M163,459.3v8.7M244,459.3v8.7M324.6,459.3v8.7M405,459.3v8.7M542,459.3v8.7M623,459.3v8.7M704,459.3v8.7M785,459.3v8.7M829.5,459.3v8.7M910.4,459.3v8.7M991.4,459.3v8.7M1072.4,459.3v8.7M1155.7,459.3v8.7M1236.6,459.3v8.7M1317.6,459.3v8.7M1398.5,459.3v8.7M1479.5,459.3v8.7M1642.5,459.3v8.7M1724,459.3v8.7M1805,459.3v8.7M1886,459.3v8.7M1966.8,459.3v8.7
M163,765.7v8.7M244,765.7v8.7M324.6,765.7v8.7M405,765.7v8.7M542,765.7v8.7M623,765.7v8.7M704,765.7v8.7M785,765.7v8.7M829.5,765.7v8.7M910.4,765.7v8.7M991.4,765.7v8.7M1072.4,765.7v8.7M1155.7,765.7v8.7M1236.6,765.7v8.7M1317.6,765.7v8.7M1398.5,765.7v8.7M1479.5,765.7v8.7M1642.5,765.7v8.7M1724,765.7v8.7M1805,765.7v8.7M1886,765.7v8.7M1966.8,765.7v8.7
M143.5,1387v8.5M238,1387v8.5M332.5,1387v8.5M427.5,1387v8.5M515.3,1387v8.5M609.8,1387v8.5M704.3,1387v8.5M810.5,1387v8.5M905.2,1387v8.5M999.8,1387v8.5M1094.9,1387v8.5M1175.3,1387v8.5M1270.4,1387v8.5M1365,1387v8.5M1459.3,1387v8.5M1554.2,1387v8.5M1716.9,1387v8.5M1811.4,1387v8.5M1905.9,1387v8.5
M143.5,1694v8.5M238,1694v8.5M332.5,1694v8.5M427.5,1694v8.5M515.3,1694v8.5M609.8,1694v8.5M704.3,1694v8.5M810.5,1694v8.5M905.2,1694v8.5M999.8,1694v8.5M1094.9,1694v8.5M1175.3,1694v8.5M1270.4,1694v8.5M1365,1694v8.5M1459.3,1694v8.5M1554.2,1694v8.5M1716.9,1694v8.5M1811.4,1694v8.5M1905.9,1694v8.5
M493,886.5v6M582,886.5v6M671,886.5v6M760,886.5v6M849,886.5v6M938,886.5v6M1027,886.5v6M1116,886.5v6M1205,886.5v6M1294,886.5v6M1383,886.5v6M1472,886.5v6M1561,886.5v6"/>

<!-- colorbar -->
<rect x="493" y="872" width="1068" height="14.5" fill="url(#cb)"/>
<polygon points="1561,872 1626,879.3 1561,886.5" fill="#440154"/>
<path d="M493,872H1561L1626,879.3L1561,886.5H493Z" fill="none" stroke="#000" stroke-width="2.5"/>
<g class="c">
<text x="493" y="919">0</text><text x="582" y="919">5</text><text x="671" y="919" textLength="39" lengthAdjust="spacingAndGlyphs">10</text><text x="760" y="919" textLength="39" lengthAdjust="spacingAndGlyphs">15</text><text x="849" y="919" textLength="39" lengthAdjust="spacingAndGlyphs">20</text><text x="938" y="919" textLength="39" lengthAdjust="spacingAndGlyphs">25</text><text x="1027" y="919" textLength="39" lengthAdjust="spacingAndGlyphs">30</text><text x="1116" y="919" textLength="39" lengthAdjust="spacingAndGlyphs">35</text><text x="1205" y="919" textLength="39" lengthAdjust="spacingAndGlyphs">40</text><text x="1294" y="919" textLength="39" lengthAdjust="spacingAndGlyphs">45</text><text x="1383" y="919" textLength="39" lengthAdjust="spacingAndGlyphs">50</text><text x="1472" y="919" textLength="39" lengthAdjust="spacingAndGlyphs">55</text><text x="1561" y="919" textLength="39" lengthAdjust="spacingAndGlyphs">60</text>
</g>

<!-- y tick labels -->
<g class="e">
<text x="109.5" y="27.2">0</text><text x="109.5" y="125.5">−5</text><text x="109.5" y="223.8" textLength="65" lengthAdjust="spacingAndGlyphs">−10</text><text x="109.5" y="322.2" textLength="65" lengthAdjust="spacingAndGlyphs">−15</text><text x="109.5" y="420.5" textLength="65" lengthAdjust="spacingAndGlyphs">−20</text>
<text x="109.5" y="491.2" textLength="39" lengthAdjust="spacingAndGlyphs">35</text><text x="109.5" y="586.2" textLength="39" lengthAdjust="spacingAndGlyphs">30</text><text x="109.5" y="681.2" textLength="39" lengthAdjust="spacingAndGlyphs">25</text><text x="109.5" y="776.2" textLength="39" lengthAdjust="spacingAndGlyphs">20</text>
<text x="109.5" y="955.9">0</text><text x="109.5" y="1054.1">−5</text><text x="109.5" y="1152.3" textLength="65" lengthAdjust="spacingAndGlyphs">−10</text><text x="109.5" y="1250.5" textLength="65" lengthAdjust="spacingAndGlyphs">−15</text><text x="109.5" y="1348.7" textLength="65" lengthAdjust="spacingAndGlyphs">−20</text>
<text x="109.5" y="1419.8" textLength="39" lengthAdjust="spacingAndGlyphs">35</text><text x="109.5" y="1514.8" textLength="39" lengthAdjust="spacingAndGlyphs">30</text><text x="109.5" y="1609.8" textLength="39" lengthAdjust="spacingAndGlyphs">25</text><text x="109.5" y="1704.5" textLength="39" lengthAdjust="spacingAndGlyphs">20</text>
</g>

<!-- axis labels -->
<text class="c" transform="translate(38,232.5) rotate(-90)" style="font-size:30px">δ<tspan baseline-shift="super" style="font-size:20px">18</tspan>O (‰)</text>
<text class="c" transform="translate(38,1161) rotate(-90)" style="font-size:30px">δ<tspan baseline-shift="super" style="font-size:20px">18</tspan>O (‰)</text>
<text class="c" transform="translate(38,624) rotate(-90)" style="font-size:30px" textLength="205" lengthAdjust="spacingAndGlyphs">Latitude (°N)</text>
<text class="c" transform="translate(38,1551.7) rotate(-90)" style="font-size:30px" textLength="205" lengthAdjust="spacingAndGlyphs">Latitude (°N)</text>
<text class="c" x="1044" y="1819" style="font-size:30px" textLength="265" lengthAdjust="spacingAndGlyphs">Date (MonthDay)</text>

<!-- panel letters -->
<text x="129.5" y="438">(a)</text>
<text x="129.5" y="521">(b)</text>
<text x="129.5" y="1368">(c)</text>
<text x="131" y="1450">(d)</text>

<!-- top date labels & year labels -->
<g class="c">
<text x="173.5" y="45.7" textLength="80" lengthAdjust="spacingAndGlyphs">0604</text>
<text x="427" y="45.7" textLength="80" lengthAdjust="spacingAndGlyphs">0721</text>
<text x="553" y="45.7" textLength="80" lengthAdjust="spacingAndGlyphs">0606</text>
<text x="731" y="45.7" textLength="80" lengthAdjust="spacingAndGlyphs">0709</text>
<text x="856.8" y="45.7" textLength="80" lengthAdjust="spacingAndGlyphs">0616</text>
<text x="1040.3" y="45.7" textLength="80" lengthAdjust="spacingAndGlyphs">0720</text>
<text x="1166.6" y="45.7" textLength="80" lengthAdjust="spacingAndGlyphs">0526</text>
<text x="1500.8" y="45.7" textLength="80" lengthAdjust="spacingAndGlyphs">0727</text>
<text x="1627" y="45.7" textLength="80" lengthAdjust="spacingAndGlyphs">0525</text>
<text x="1934.7" y="45.7" textLength="80" lengthAdjust="spacingAndGlyphs">0721</text>
<text x="181.6" y="975" textLength="80" lengthAdjust="spacingAndGlyphs">0604</text>
<text x="415.2" y="975" textLength="80" lengthAdjust="spacingAndGlyphs">0711</text>
<text x="559.4" y="975" textLength="80" lengthAdjust="spacingAndGlyphs">0619</text>
<text x="692" y="975" textLength="80" lengthAdjust="spacingAndGlyphs">0710</text>
<text x="836" y="975" textLength="80" lengthAdjust="spacingAndGlyphs">0616</text>
<text x="1044.2" y="975" textLength="80" lengthAdjust="spacingAndGlyphs">0719</text>
<text x="1187.8" y="975" textLength="80" lengthAdjust="spacingAndGlyphs">0601</text>
<text x="1579.5" y="975" textLength="80" lengthAdjust="spacingAndGlyphs">0802</text>
<text x="1723.3" y="975" textLength="80" lengthAdjust="spacingAndGlyphs">0609</text>
<text x="1925.1" y="975" textLength="80" lengthAdjust="spacingAndGlyphs">0711</text>
<text x="300.8" y="450.7" textLength="79" lengthAdjust="spacingAndGlyphs">2012</text>
<text x="642.4" y="450.7" textLength="79" lengthAdjust="spacingAndGlyphs">2013</text>
<text x="948.5" y="450.7" textLength="79" lengthAdjust="spacingAndGlyphs">2014</text>
<text x="1333.8" y="450.7" textLength="79" lengthAdjust="spacingAndGlyphs">2015</text>
<text x="1780.3" y="450.7" textLength="79" lengthAdjust="spacingAndGlyphs">2016</text>
<text x="299.3" y="1379.3" textLength="79" lengthAdjust="spacingAndGlyphs">2017</text>
<text x="625.5" y="1379.3" textLength="79" lengthAdjust="spacingAndGlyphs">2018</text>
<text x="939.8" y="1379.3" textLength="79" lengthAdjust="spacingAndGlyphs">2019</text>
<text x="1383.9" y="1379.3" textLength="79" lengthAdjust="spacingAndGlyphs">2020</text>
<text x="1823.9" y="1379.3" textLength="79" lengthAdjust="spacingAndGlyphs">2021</text>
</g>

<!-- rotated x tick labels -->
<g class="c">
<text transform="translate(162.5,814) rotate(-45)" dy="10.5" textLength="79" lengthAdjust="spacingAndGlyphs">0602</text>
<text transform="translate(243.5,814) rotate(-45)" dy="10.5" textLength="79" lengthAdjust="spacingAndGlyphs">0617</text>
<text transform="translate(324.1,814) rotate(-45)" dy="10.5" textLength="79" lengthAdjust="spacingAndGlyphs">0702</text>
<text transform="translate(404.5,814) rotate(-45)" dy="10.5" textLength="79" lengthAdjust="spacingAndGlyphs">0717</text>
<text transform="translate(541.5,814) rotate(-45)" dy="10.5" textLength="79" lengthAdjust="spacingAndGlyphs">0604</text>
<text transform="translate(622.5,814) rotate(-45)" dy="10.5" textLength="79" lengthAdjust="spacingAndGlyphs">0619</text>
<text transform="translate(703.5,814) rotate(-45)" dy="10.5" textLength="79" lengthAdjust="spacingAndGlyphs">0704</text>
<text transform="translate(784.5,814) rotate(-45)" dy="10.5" textLength="79" lengthAdjust="spacingAndGlyphs">0719</text>
<text transform="translate(829,814) rotate(-45)" dy="10.5" textLength="79" lengthAdjust="spacingAndGlyphs">0611</text>
<text transform="translate(909.9,814) rotate(-45)" dy="10.5" textLength="79" lengthAdjust="spacingAndGlyphs">0626</text>
<text transform="translate(990.9,814) rotate(-45)" dy="10.5" textLength="79" lengthAdjust="spacingAndGlyphs">0711</text>
<text transform="translate(1071.9,814) rotate(-45)" dy="10.5" textLength="79" lengthAdjust="spacingAndGlyphs">0726</text>
<text transform="translate(1155.2,814) rotate(-45)" dy="10.5" textLength="79" lengthAdjust="spacingAndGlyphs">0524</text>
<text transform="translate(1236.1,814) rotate(-45)" dy="10.5" textLength="79" lengthAdjust="spacingAndGlyphs">0608</text>
<text transform="translate(1317.1,814) rotate(-45)" dy="10.5" textLength="79" lengthAdjust="spacingAndGlyphs">0623</text>
<text transform="translate(1398,814) rotate(-45)" dy="10.5" textLength="79" lengthAdjust="spacingAndGlyphs">0708</text>
<text transform="translate(1479,814) rotate(-45)" dy="10.5" textLength="79" lengthAdjust="spacingAndGlyphs">0723</text>
<text transform="translate(1642,814) rotate(-45)" dy="10.5" textLength="79" lengthAdjust="spacingAndGlyphs">0528</text>
<text transform="translate(1723.5,814) rotate(-45)" dy="10.5" textLength="79" lengthAdjust="spacingAndGlyphs">0612</text>
<text transform="translate(1804.5,814) rotate(-45)" dy="10.5" textLength="79" lengthAdjust="spacingAndGlyphs">0627</text>
<text transform="translate(1885.5,814) rotate(-45)" dy="10.5" textLength="79" lengthAdjust="spacingAndGlyphs">0712</text>
<text transform="translate(1966.3,814) rotate(-45)" dy="10.5" textLength="79" lengthAdjust="spacingAndGlyphs">0727</text>
<text transform="translate(143,1743.5) rotate(-45)" dy="10.5" textLength="79" lengthAdjust="spacingAndGlyphs">0529</text>
<text transform="translate(237.5,1743.5) rotate(-45)" dy="10.5" textLength="79" lengthAdjust="spacingAndGlyphs">0613</text>
<text transform="translate(332,1743.5) rotate(-45)" dy="10.5" textLength="79" lengthAdjust="spacingAndGlyphs">0628</text>
<text transform="translate(427,1743.5) rotate(-45)" dy="10.5" textLength="79" lengthAdjust="spacingAndGlyphs">0713</text>
<text transform="translate(514.8,1743.5) rotate(-45)" dy="10.5" textLength="79" lengthAdjust="spacingAndGlyphs">0612</text>
<text transform="translate(609.3,1743.5) rotate(-45)" dy="10.5" textLength="79" lengthAdjust="spacingAndGlyphs">0627</text>
<text transform="translate(703.8,1743.5) rotate(-45)" dy="10.5" textLength="79" lengthAdjust="spacingAndGlyphs">0712</text>
<text transform="translate(810,1743.5) rotate(-45)" dy="10.5" textLength="79" lengthAdjust="spacingAndGlyphs">0612</text>
<text transform="translate(904.7,1743.5) rotate(-45)" dy="10.5" textLength="79" lengthAdjust="spacingAndGlyphs">0627</text>
<text transform="translate(999.3,1743.5) rotate(-45)" dy="10.5" textLength="79" lengthAdjust="spacingAndGlyphs">0712</text>
<text transform="translate(1094.4,1743.5) rotate(-45)" dy="10.5" textLength="79" lengthAdjust="spacingAndGlyphs">0727</text>
<text transform="translate(1174.8,1743.5) rotate(-45)" dy="10.5" textLength="79" lengthAdjust="spacingAndGlyphs">0530</text>
<text transform="translate(1269.9,1743.5) rotate(-45)" dy="10.5" textLength="79" lengthAdjust="spacingAndGlyphs">0614</text>
<text transform="translate(1364.5,1743.5) rotate(-45)" dy="10.5" textLength="79" lengthAdjust="spacingAndGlyphs">0629</text>
<text transform="translate(1458.8,1743.5) rotate(-45)" dy="10.5" textLength="79" lengthAdjust="spacingAndGlyphs">0714</text>
<text transform="translate(1553.7,1743.5) rotate(-45)" dy="10.5" textLength="79" lengthAdjust="spacingAndGlyphs">0729</text>
<text transform="translate(1716.4,1743.5) rotate(-45)" dy="10.5" textLength="79" lengthAdjust="spacingAndGlyphs">0608</text>
<text transform="translate(1810.9,1743.5) rotate(-45)" dy="10.5" textLength="79" lengthAdjust="spacingAndGlyphs">0623</text>
<text transform="translate(1905.4,1743.5) rotate(-45)" dy="10.5" textLength="79" lengthAdjust="spacingAndGlyphs">0708</text>
</g>
</svg>
</body></html>
